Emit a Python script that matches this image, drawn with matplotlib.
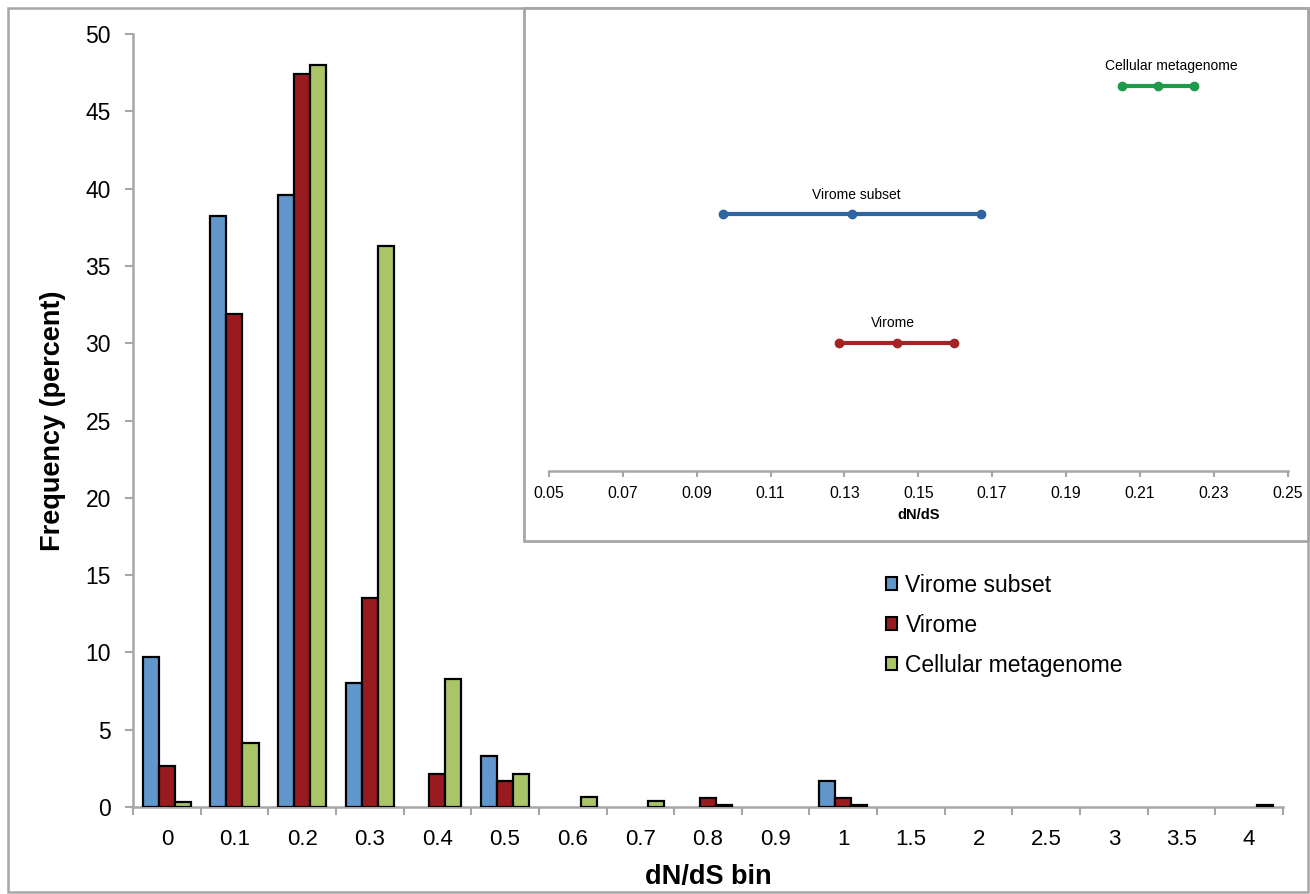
import matplotlib
matplotlib.use("Agg")
import matplotlib.pyplot as plt
from matplotlib.patches import Rectangle, Patch
import numpy as np

plt.rcParams['font.family'] = ['Liberation Sans', 'DejaVu Sans']

# ---------------- data ----------------
bins = ["0", "0.1", "0.2", "0.3", "0.4", "0.5", "0.6", "0.7", "0.8", "0.9",
        "1", "1.5", "2", "2.5", "3", "3.5", "4"]
virome_subset = [9.7, 38.2, 39.6, 8.0, 0, 3.3, 0, 0, 0, 0, 1.65, 0, 0, 0, 0, 0, 0]
virome = [2.65, 31.9, 47.4, 13.5, 2.15, 1.65, 0, 0, 0.55, 0, 0.55, 0, 0, 0, 0, 0, 0]
cellular = [0.3, 4.15, 48.0, 36.3, 8.25, 2.15, 0.65, 0.4, 0.15, 0, 0.12, 0, 0, 0, 0, 0, 0.12]
series_names = ["Virome subset", "Virome", "Cellular metagenome"]

inset_groups = ["Cellular metagenome", "Virome subset", "Virome"]
inset_low = [0.2051, 0.0970, 0.1285]
inset_mean = [0.2150, 0.1320, 0.1443]
inset_high = [0.2246, 0.1671, 0.1596]
inset_y = [3, 2, 1]
inset_ticks = [0.05, 0.07, 0.09, 0.11, 0.13, 0.15, 0.17, 0.19, 0.21, 0.23, 0.25]

# ---------------- style ----------------
bar_colors = ["#6197cd", "#9a1b1f", "#a9c568"]
line_colors = {"Cellular metagenome": "#1f9a4b", "Virome subset": "#2e64a0", "Virome": "#a22424"}
label_dx = {"Cellular metagenome": 13, "Virome subset": 5, "Virome": -4}
gray = "#a6a6a6"

W, H = 1310, 894
fig = plt.figure(figsize=(W / 100, H / 100), dpi=100)

def fx(px):
    return px / W

def fy(py):
    return 1 - py / H

# main axes
ax = fig.add_axes([fx(133), fy(807), fx(1283) - fx(133), fy(34) - fy(807)])
x = np.arange(len(bins))
bw = 0.237
for i, (vals, col, name) in enumerate(zip([virome_subset, virome, cellular], bar_colors, series_names)):
    bars = ax.bar(x + (i - 1) * bw, vals, width=bw, color=col, edgecolor="black",
                  linewidth=1.6, label=name, zorder=3)
    for b, v in zip(bars, vals):
        if v <= 0:
            b.set_visible(False)

ax.set_xlim(-0.5, len(bins) - 0.5)
ax.set_ylim(0, 50)
ax.set_yticks(np.arange(0, 51, 5))
ax.set_yticklabels([str(v) for v in range(0, 51, 5)], fontsize=16.5)
ax.set_xticks(x)
ax.set_xticklabels(bins, fontsize=16)
ax.set_xticks(np.arange(-0.5, len(bins), 1), minor=True)
ax.tick_params(axis="x", which="major", length=0, pad=16)
ax.tick_params(axis="x", which="minor", length=6, width=1.5, color=gray, direction="out")
ax.tick_params(axis="y", length=6, width=1.5, color=gray, pad=10)
for s in ["top", "right"]:
    ax.spines[s].set_visible(False)
for s in ["left", "bottom"]:
    ax.spines[s].set_color(gray)
    ax.spines[s].set_linewidth(1.8)
ax.set_ylabel("Frequency (percent)", fontsize=19.5, fontweight="bold", labelpad=14)
ax.set_xlabel("dN/dS bin", fontsize=19.5, fontweight="bold", labelpad=10)

# legend
handles = [Patch(facecolor=c, edgecolor="black", linewidth=1.5) for c in bar_colors]
fig.legend(handles, series_names, loc="upper left", bbox_to_anchor=(fx(886), fy(574)),
           frameon=False, fontsize=16.5, handlelength=0.5, handleheight=0.5,
           handletextpad=0.35, labelspacing=0.74, borderpad=0, borderaxespad=0)

# outer frame
fig.add_artist(Rectangle((fx(8), fy(892)), fx(1308) - fx(8), fy(8) - fy(892),
                         transform=fig.transFigure, fill=False, edgecolor=gray,
                         linewidth=1.8, zorder=5))
# inset frame
fig.add_artist(Rectangle((fx(524), fy(541)), fx(1308) - fx(524), fy(8) - fy(541),
                         transform=fig.transFigure, facecolor="white", edgecolor=gray,
                         linewidth=2.0, zorder=5))

# inset axes
iax = fig.add_axes([fx(549), fy(471), fx(1287.5) - fx(549), fy(21.6) - fy(471)], zorder=6)
iax.patch.set_visible(False)
for g, lo, m, hi, yy in zip(inset_groups, inset_low, inset_mean, inset_high, inset_y):
    c = line_colors[g]
    iax.plot([lo, m, hi], [yy, yy, yy], color=c, linewidth=3, marker="o", markersize=6,
             solid_capstyle="round")
    iax.annotate(g, (m, yy), xytext=(label_dx[g] * 0.72, 9), textcoords="offset points",
                 ha="center", va="bottom", fontsize=10)
iax.set_xlim(0.05, 0.25)
iax.set_ylim(0, 3.5)
iax.set_xticks(inset_ticks)
iax.set_xticklabels([f"{t:.2f}" for t in inset_ticks], fontsize=11.3)
iax.set_yticks([])
iax.tick_params(axis="x", length=4, width=1.5, color=gray, pad=7)
for s in ["top", "right", "left"]:
    iax.spines[s].set_visible(False)
iax.spines["bottom"].set_color(gray)
iax.spines["bottom"].set_linewidth(1.8)
iax.set_xlabel("dN/dS", fontsize=10.5, fontweight="bold", labelpad=5)

fig.savefig("out.png", dpi=100)
